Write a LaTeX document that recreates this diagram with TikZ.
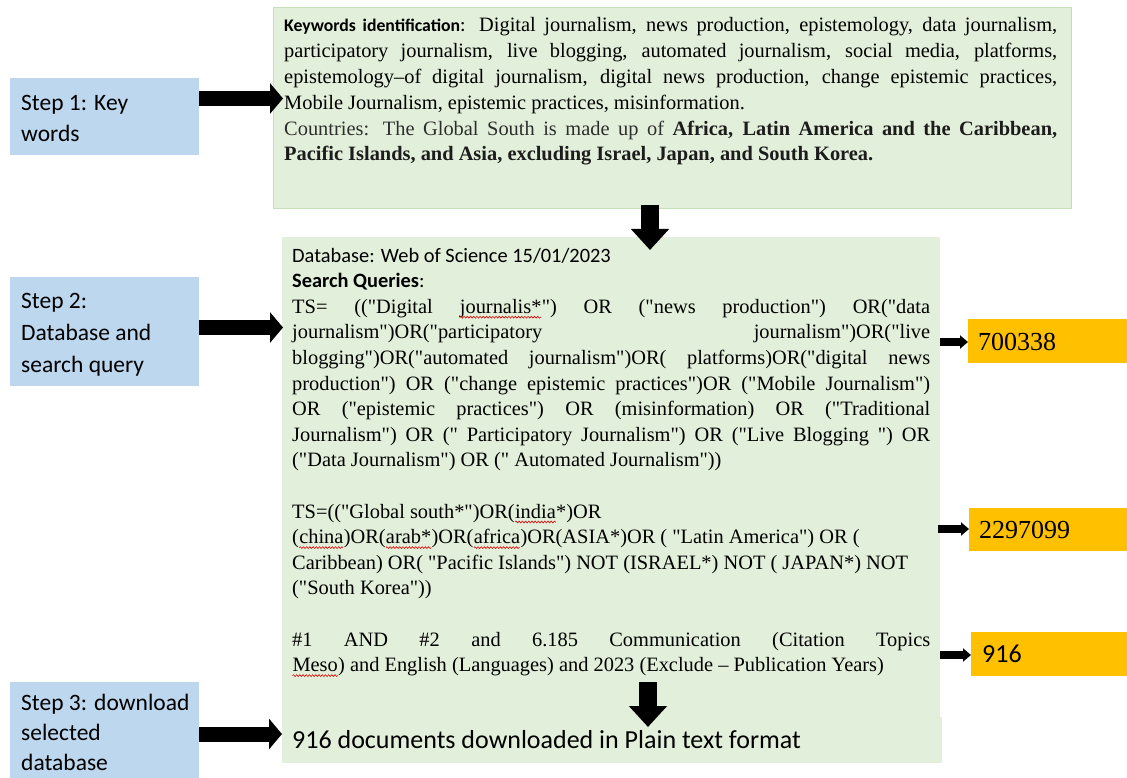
\documentclass[tikz,border=0pt]{standalone}
\usepackage{fontspec}
\setmainfont{Liberation Serif}[Ligatures=TeXOff]
\newfontfamily\calfont{Carlito}
\usetikzlibrary{arrows.meta,decorations.pathmorphing}
\definecolor{boxgreen}{HTML}{E2EFDA}
\definecolor{boxgreenline}{HTML}{C5E0B4}
\definecolor{stepblue}{HTML}{BDD7EE}
\definecolor{numorange}{HTML}{FFC000}
\definecolor{cgray}{HTML}{2E2E2E}
\definecolor{cdark}{HTML}{1C1C1C}
\newcommand\spellw[1]{\tikz[baseline=(sw.base)]{\node[inner sep=0pt, outer sep=0pt] (sw) {#1}; \draw[red!85!black, line width=0.6pt, decorate, decoration={snake, amplitude=0.9pt, segment length=3.2pt}] ([yshift=-4pt]sw.base west) -- ([yshift=-4pt]sw.base east);}}
\newcommand\jl[1]{\makebox[\linewidth][s]{#1}\par}
\newcommand\rl[1]{{#1\par}}
\tikzset{
  greenbox/.style={fill=boxgreen, draw=none, inner sep=0pt, anchor=north west},
  stepbox/.style={fill=stepblue, draw=none, inner sep=0pt, anchor=north west},
  numbox/.style={fill=numorange, draw=none, inner sep=0pt, anchor=north west},
  txt/.style={inner sep=0pt, anchor=base west},
  blk/.style={line width=15pt, -{Triangle[width=30pt,length=13pt]}},
  smallblk/.style={line width=8pt, -{Triangle[width=13pt,length=8pt]}},
  downblk/.style={line width=18pt, -{Triangle[width=37pt,length=21pt]}},
}
\begin{document}
\begin{tikzpicture}[x=1pt,y=-1pt]
\useasboundingbox (0,0) rectangle (1127,778);
% boxes
\node[greenbox, draw=boxgreenline, line width=1pt, minimum width=798pt, minimum height=201pt] (kw) at (273,7) {};
\node[greenbox, minimum width=658pt, minimum height=480pt] (qb) at (282,237) {};
\node[greenbox, minimum width=660pt, minimum height=46pt] (fb) at (282,717) {};
\node[stepbox, minimum width=189pt, minimum height=77pt] (s1) at (10,78) {};
\node[stepbox, minimum width=189pt, minimum height=109pt] (s2) at (10,277) {};
\node[stepbox, minimum width=189pt, minimum height=96pt] (s3) at (10,682) {};
\node[numbox, minimum width=159pt, minimum height=44pt] (n1) at (968,319) {};
\node[numbox, minimum width=158pt, minimum height=43pt] (n2) at (969,508) {};
\node[numbox, minimum width=156pt, minimum height=44pt] (n3) at (971,632) {};
% step texts
\node[txt] (s1t) at (21,111) {\begin{minipage}[t]{180pt}\calfont\fontsize{23.5}{31}\selectfont Step 1: Key\par words\end{minipage}};
\node[txt] (s2t) at (21,308) {\begin{minipage}[t]{180pt}\calfont\fontsize{23.5}{32}\selectfont Step 2:\par Database and\par search query\end{minipage}};
\node[txt] (s3t) at (21,710) {\begin{minipage}[t]{180pt}\calfont\fontsize{23.5}{30}\selectfont Step 3: download\par selected\par database\end{minipage}};
% numbers
\node[txt] (n1t) at (978,350) {\fontsize{26}{30}\selectfont 700338};
\node[txt] (n2t) at (979,538) {\fontsize{26}{30}\selectfont 2297099};
\node[txt] (n3t) at (982,662) {\calfont\fontsize{26}{30}\selectfont 916};
% keywords text
\node[txt] (kwt) at (284,32) {\begin{minipage}[t]{773pt}\fontsize{20.4}{25.8}\selectfont
\jl{{\calfont\bfseries\fontsize{17.7}{20}\selectfont Keywords identification}{\calfont:} Digital journalism, news production, epistemology, data journalism,}
\jl{participatory journalism, live blogging, automated journalism, social media, platforms,}
\jl{epistemology–of digital journalism, digital news production, change epistemic practices,}
\rl{Mobile Journalism, epistemic practices, misinformation.}
\jl{\color{cgray}Countries: The Global South is made up of \textbf{\color{cdark}Africa, Latin America and the Caribbean,}}
\rl{\color{cdark}\bfseries Pacific Islands, and Asia, excluding Israel, Japan, and South Korea.}
\end{minipage}};
% query text
\node[txt] (qt) at (292,262) {\begin{minipage}[t]{638pt}\fontsize{20.4}{25.6}\selectfont
\rl{\calfont Database: Web of Science 15/01/2023}
\rl{\calfont\bfseries Search Queries\mdseries:}
\jl{TS= (("Digital \spellw{journalis*}") OR ("news production") OR("data}
\jl{journalism")OR("participatory journalism")OR("live}
\jl{blogging")OR("automated journalism")OR( platforms)OR("digital news}
\jl{production") OR ("change epistemic practices")OR ("Mobile Journalism")}
\jl{OR ("epistemic practices") OR (misinformation) OR ("Traditional}
\jl{Journalism") OR (" Participatory Journalism") OR ("Live Blogging ") OR}
\rl{("Data Journalism") OR (" Automated Journalism"))}
\rl{\mbox{}}
\rl{TS=(("Global south*")OR(\spellw{india}*)OR}
\rl{(\spellw{china})OR(\spellw{arab*})OR(\spellw{africa})OR(ASIA*)OR ( "Latin America") OR (}
\rl{Caribbean) OR( "Pacific Islands") NOT (ISRAEL*) NOT ( JAPAN*) NOT}
\rl{("South Korea"))}
\rl{\mbox{}}
\jl{\#1 AND \#2 and 6.185 Communication (Citation Topics}
\rl{\spellw{Meso}) and English (Languages) and 2023 (Exclude – Publication Years)}
\end{minipage}};
\node[txt] (fin) at (292,748) {\calfont\fontsize{26}{30}\selectfont 916 documents downloaded in Plain text format};
% connector end points
\coordinate (a1e) at (283,98.5);
\coordinate (a2e) at (283,327.5);
\coordinate (a3e) at (282,734);
\coordinate (d1s) at (650,205);
\coordinate (d1e) at (650,250);
\coordinate (d2s) at (648,682);
\coordinate (d2e) at (648,727);
\coordinate (b1s) at (940,342);
\coordinate (b2s) at (938,529);
\coordinate (b3s) at (940,655);
% arrows
\draw[blk] (s1.east |- a1e) -- (a1e);
\draw[blk] (s2.east |- a2e) -- (a2e);
\draw[blk] (s3.east |- a3e) -- (a3e);
\draw[downblk] (d1s) -- (d1e);
\draw[downblk] (d2s) -- (d2e);
\draw[smallblk] (b1s) -- (n1.west |- b1s);
\draw[smallblk] (b2s) -- (n2.west |- b2s);
\draw[smallblk] (b3s) -- (n3.west |- b3s);
\end{tikzpicture}
\end{document}
